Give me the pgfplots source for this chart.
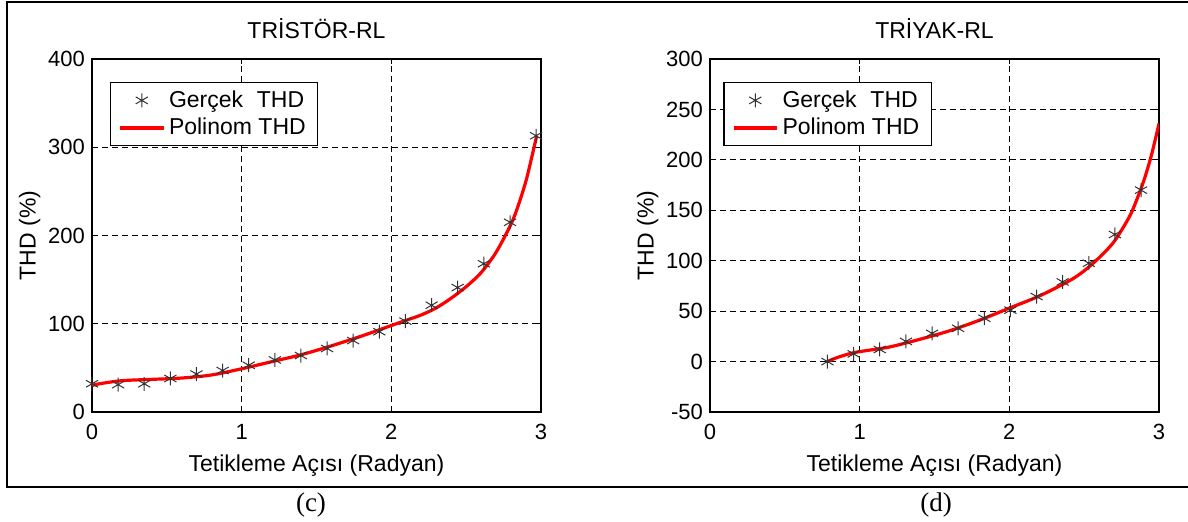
\documentclass[border=0pt]{standalone}
\usepackage{fontspec}
\setmainfont{Liberation Sans}
\newfontfamily\capfont{Liberation Serif}
\usepackage{pgfplots}
\pgfplotsset{compat=1.18}

% measured in reference pixels, 1px = 0.5pt
\pgfplotsset{
  matstyle/.style={
    scale only axis,
    width=224.5pt, height=176.5pt,
    anchor=south west,
    axis line style={black, line width=0.6pt},
    grid=major,
    major grid style={black, line width=0.4pt, dash pattern=on 3pt off 2pt},
    tick align=inside,
    tick style={black, line width=0.4pt},
    major tick length=2.5pt,
    ticklabel style={font=\fontsize{11}{13}\selectfont},
    xticklabel style={yshift=-2.5pt},
    label style={font=\fontsize{11.5}{13}\selectfont},
    title style={font=\fontsize{11.5}{13}\selectfont, yshift=0.5pt},
    /pgf/number format/assume math mode=true,
    xmin=0, xmax=3, xtick={0,1,2,3},
    xlabel={Tetikleme Açısı (Radyan)},
    ylabel={THD (\%)},
    xlabel style={yshift=-0.5pt},
    ylabel style={yshift=-3pt},
    legend cell align=left,
    legend style={font=\fontsize{11.5}{13}\selectfont, draw=black, line width=0.6pt,
      anchor=north west, inner xsep=4pt, inner ysep=2pt, row sep=0pt,
      /tikz/every even column/.append style={column sep=4pt}},
    legend image code/.code={
      \draw[mark repeat=2,mark phase=2,#1] plot coordinates {(0cm,0cm) (0.38cm,0cm) (0.76cm,0cm)};},
  },
  realmark/.style={only marks, mark=asterisk, mark size=3.5pt, black!80, mark options={line width=0.5pt}},
  polyline/.style={red, line width=1.6pt, smooth, no marks},
}

\begin{document}
\begin{tikzpicture}
\useasboundingbox (0,0) rectangle (594pt,260.5pt);
\draw[black, line width=1pt] (594pt,259.5pt) -- (3.5pt,259.5pt) -- (3.5pt,17pt) -- (594pt,17pt);

\begin{axis}[matstyle, at={(46pt,54.5pt)},
  title={TRİSTÖR-RL},
  ymin=0, ymax=400, ytick={0,100,200,300,400},
  legend style={at={(rel axis cs:0.04,0.935)}}]
\addplot[realmark] coordinates {
  (0,32) (0.1745,31) (0.349,32) (0.5236,38) (0.698,43) (0.8727,47)
  (1.047,53) (1.2217,59) (1.396,64) (1.5708,72) (1.745,81) (1.92,91)
  (2.094,103) (2.269,121) (2.443,141) (2.618,168) (2.793,215) (2.967,313)
};
\addlegendentry{Gerçek\hspace{0.6em}THD}
\addplot[polyline] coordinates {
  (0,30) (0.05,32) (0.2,35.5) (0.4,37) (0.6,38.5) (0.8,42) (1.0,49)
  (1.2,57) (1.4,65) (1.6,75) (1.8,86) (2.0,98) (2.1,104) (2.2,110) (2.3,118)
  (2.4,129) (2.5,142) (2.6,158) (2.7,181) (2.8,213) (2.85,235) (2.9,262) (2.94,290) (2.97,312)
};
\addlegendentry{Polinom THD}
\end{axis}

\begin{axis}[matstyle, at={(355pt,54.5pt)},
  title={TRİYAK-RL},
  ymin=-50, ymax=300, ytick={-50,0,50,100,150,200,250,300},
  legend style={at={(rel axis cs:0.03,0.935)}}]
\addplot[realmark] coordinates {
  (0.785,0) (0.960,7.6) (1.134,12) (1.309,20) (1.484,28) (1.658,33)
  (1.833,43) (2.007,51) (2.182,64.5) (2.356,79) (2.531,97.5) (2.705,126) (2.880,170)
};
\addlegendentry{Gerçek\hspace{0.6em}THD}
\addplot[polyline] coordinates {
  (0.785,0) (0.85,4) (0.95,8.5) (1.05,11) (1.2,14.5) (1.4,22) (1.6,30.5)
  (1.8,41) (2.0,53) (2.2,65) (2.4,80) (2.5,90) (2.6,103) (2.7,119)
  (2.8,143) (2.85,160) (2.9,180) (2.95,205) (3.0,236)
};
\addlegendentry{Polinom THD}
\end{axis}

\node[font=\capfont\fontsize{13.5}{15}\selectfont] at (155.5pt,8pt) {(c)};
\node[font=\capfont\fontsize{13.5}{15}\selectfont] at (468pt,8pt) {(d)};
\end{tikzpicture}
\end{document}
